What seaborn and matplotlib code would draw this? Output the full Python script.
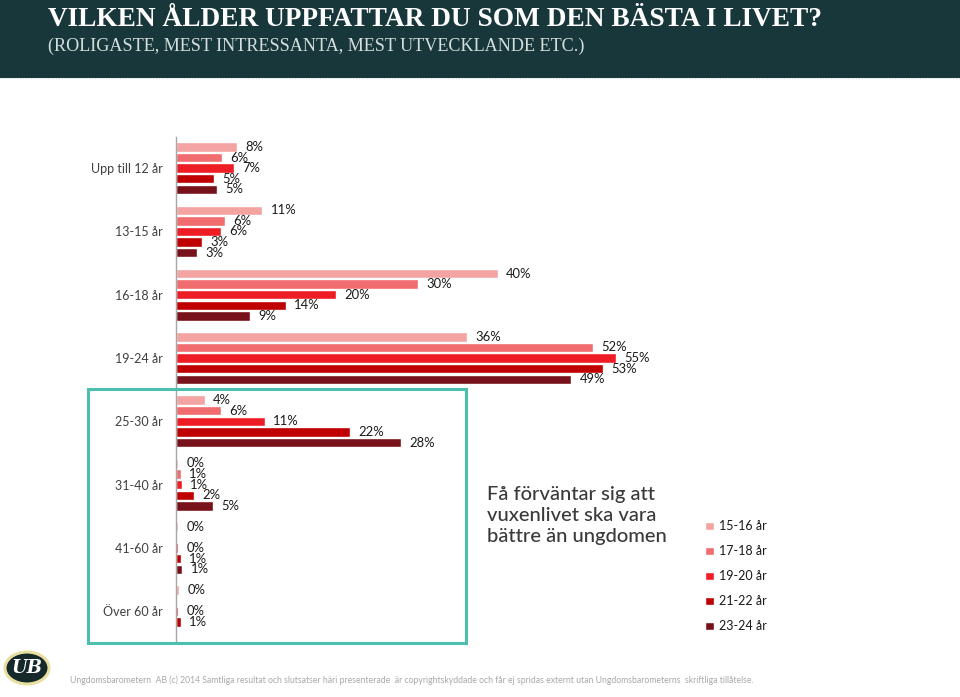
import numpy as np
import pandas as pd
import matplotlib
matplotlib.use("Agg")
import matplotlib.pyplot as plt
import seaborn as sns
from matplotlib.patches import Rectangle, Circle
from matplotlib.lines import Line2D

nan = np.nan
categories = ["Upp till 12 år", "13-15 år", "16-18 år", "19-24 år",
              "25-30 år", "31-40 år", "41-60 år", "Över 60 år"]
series = ["15-16 år", "17-18 år", "19-20 år", "21-22 år", "23-24 år"]
v_15_16 = [7.6, 10.8, 40.2, 36.4, 3.6, 0.3, 0.3, 0.4]
v_17_18 = [5.8, 6.1, 30.2, 52.1, 5.6, 0.6, nan, nan]
v_19_20 = [7.2, 5.6, 20.0, 55.0, 11.1, 0.7, 0.3, 0.3]
v_21_22 = [4.7, 3.2, 13.7, 53.4, 21.8, 2.2, 0.6, 0.6]
v_23_24 = [5.1, 2.6, 9.3, 49.4, 28.1, 4.6, 0.8, nan]
colors = ["#F4A3A3", "#F06C6E", "#EE1D25", "#C00000", "#78121A"]

title = "VILKEN ÅLDER UPPFATTAR DU SOM DEN BÄSTA I LIVET?"
subtitle = "(ROLIGASTE, MEST INTRESSANTA, MEST UTVECKLANDE ETC.)"
note = "Få förväntar sig att\nvuxenlivet ska vara\nbättre än ungdomen"
footer = ("Ungdomsbarometern  AB (c) 2014 Samtliga resultat och slutsatser häri presenterade  är "
          "copyrightskyddade och får ej spridas externt utan Ungdomsbarometerns  skriftliga tillåtelse.")

rows = []
for s, vals in zip(series, [v_15_16, v_17_18, v_19_20, v_21_22, v_23_24]):
    for c, v in zip(categories, vals):
        if np.isfinite(v):
            rows.append({"category": c, "series": s, "value": v})
df = pd.DataFrame(rows)

sns.set_theme(style="white")
plt.rcParams["font.family"] = ["Lato", "DejaVu Sans"]

W, H = 960, 697
fig = plt.figure(figsize=(W / 100, H / 100), dpi=100)
fig.patch.set_facecolor("white")

def fx(px):
    return px / W

def fy(py):
    return 1 - py / H

ax_l, ax_r, ax_t, ax_b = 176, 816, 136.5, 643
ax = fig.add_axes([fx(ax_l), fy(ax_b), fx(ax_r - ax_l), (ax_b - ax_t) / H])
sns.barplot(data=df, x="value", y="category", hue="series", order=categories,
            hue_order=series, palette=colors, orient="h", width=0.84, gap=0.12,
            errorbar=None, saturation=1, ax=ax)
ax.set_xlim(0, 80)
ax.set_xlabel("")
ax.set_ylabel("")
ax.set_xticks([])
for sp in ["top", "right", "bottom"]:
    ax.spines[sp].set_visible(False)
ax.spines["left"].set_color("#A6A6A6")
ax.spines["left"].set_linewidth(1.0)
ax.tick_params(axis="y", length=0, pad=9.5, labelsize=9.0, labelcolor="#404040")
ax.set_facecolor("none")

for cont in ax.containers:
    labels = []
    for b in cont:
        w = b.get_width()
        labels.append(f"{w:.0f}%" if np.isfinite(w) else "")
    ax.bar_label(cont, labels=labels, padding=6, fontsize=9.4, color="#1a1a1a")

handles, labs = ax.get_legend_handles_labels()
if ax.get_legend() is not None:
    ax.get_legend().remove()
fig.legend(handles, labs, loc="upper left", bbox_to_anchor=(fx(694), fy(509)),
           frameon=False, fontsize=9, handlelength=0.7, handleheight=0.7,
           handletextpad=0.4, labelspacing=1.04, labelcolor="#1a1a1a")

fig.text(fx(487), fy(486), note, fontsize=14.5, color="#3a3a3a", va="top",
         ha="left", linespacing=1.3, fontweight="medium")

# teal highlight box
fig.patches.append(Rectangle((fx(88), fy(643)), fx(466 - 88), (643 - 389) / H,
                             transform=fig.transFigure, fill=False,
                             edgecolor="#4DBFAE", linewidth=2.2, zorder=5))

# header band
fig.patches.append(Rectangle((0, fy(78)), 1, 78 / H, transform=fig.transFigure,
                             facecolor="#17373A", edgecolor="none", zorder=0))
fig.lines.append(Line2D([0, 1], [fy(77.5), fy(77.5)], transform=fig.transFigure,
                        color="#cfd8d8", linestyle=(0, (1, 1.5)), linewidth=0.8))

renderer = fig.canvas.get_renderer()

def fit_text(x, y, s, width_px, size, **kw):
    t = fig.text(x, y, s, fontsize=size, **kw)
    w = t.get_window_extent(renderer).width
    t.set_fontsize(size * width_px / w)
    return t

fit_text(fx(48), fy(19), title, 774, 20, family=["Liberation Serif"], fontweight="bold",
         color="white", va="center", ha="left")
fit_text(fx(48), fy(46), subtitle, 540, 14, family=["Liberation Serif"],
         color="#D5DDDD", va="center", ha="left")
fit_text(fx(70), fy(680), footer, 682, 7, color="#A8A8A8", va="center", ha="left")

# logo
fig.patches.append(Circle((fx(27), fy(668)), 22 / W, transform=fig.transFigure,
                          facecolor="#15282A", edgecolor="#E8DFA0", linewidth=2.2,
                          zorder=3))
fig.text(fx(27), fy(668), "UB", fontsize=13, color="white", style="italic",
         fontweight="bold", family=["DejaVu Serif"], ha="center", va="center", zorder=4)

fig.savefig("out.png", dpi=100)
